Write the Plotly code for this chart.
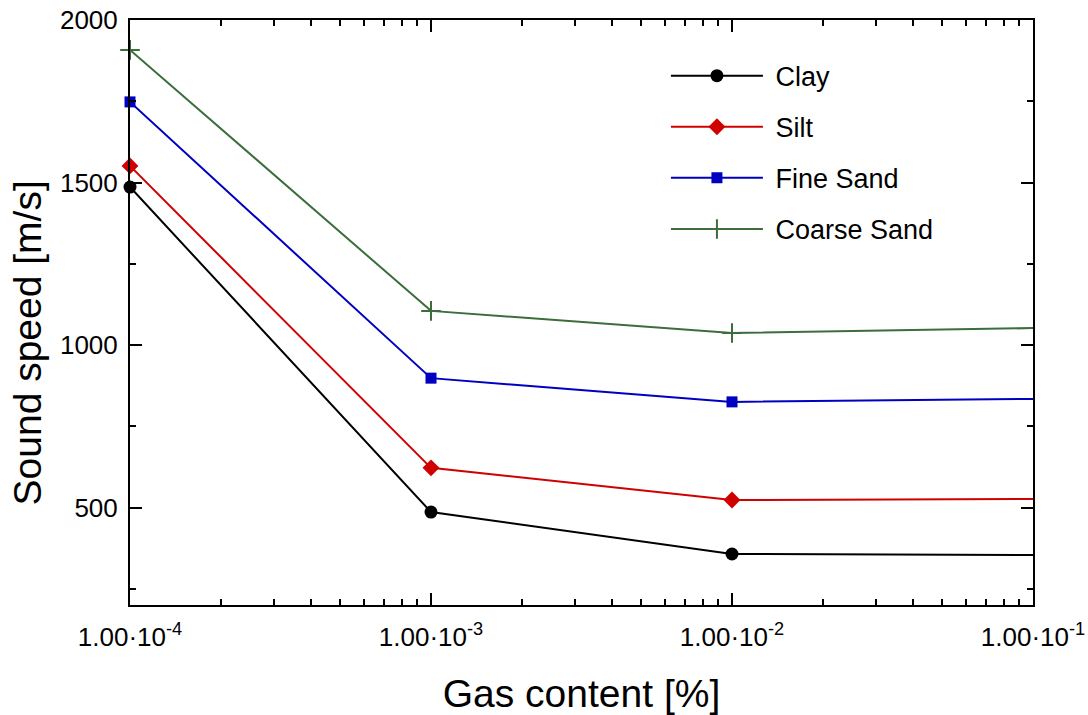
import plotly.graph_objects as go

# Gas content [%] and sound speed [m/s] per sediment type
gas_content = [1e-4, 1e-3, 1e-2, 1e-1]
clay = [1486, 486, 357, 354]
silt = [1551, 622, 523, 526]
fine_sand = [1748, 898, 825, 834]
coarse_sand = [1908, 1105, 1037, 1052]

x_tickvals = [1e-4, 1e-3, 1e-2, 1e-1]
x_ticktext = ["1.00·10<sup>-4</sup>", "1.00·10<sup>-3</sup>",
              "1.00·10<sup>-2</sup>", "1.00·10<sup>-1</sup>"]
# minor log ticks at 2..9 within each decade
x_minor = [m * d for d in (1e-4, 1e-3, 1e-2) for m in range(2, 10)]
y_tickvals = [500, 1000, 1500, 2000]

series = [
    ("Clay", clay, "#000000", dict(symbol="circle", size=13)),
    ("Silt", silt, "#d00000", dict(symbol="diamond", size=13)),
    ("Fine Sand", fine_sand, "#0000c0", dict(symbol="square", size=11)),
    ("Coarse Sand", coarse_sand, "#3b6e3b",
     dict(symbol="cross-thin", size=14, line=dict(width=2, color="#3b6e3b"))),
]

fig = go.Figure()
for name, vals, color, mk in series:
    fig.add_trace(go.Scatter(
        x=gas_content, y=vals, name="\u00a0" + name, legendgroup=name,
        mode="lines+markers",
        line=dict(color=color, width=2),
        marker=dict(color=color, **mk),
        cliponaxis=False,
    ))

font_family = "Liberation Sans, Arial, Helvetica, sans-serif"
axis_common = dict(
    showline=True, linecolor="black", linewidth=2, mirror="allticks",
    ticks="inside", ticklen=12, tickwidth=2, tickcolor="black",
    showgrid=False, zeroline=False, automargin=False,
    tickfont=dict(family=font_family, size=26, color="black"),
)

fig.update_layout(
    width=1088, height=715,
    margin=dict(l=130, r=55, t=20, b=110),
    paper_bgcolor="white", plot_bgcolor="white",
    font=dict(family=font_family, color="black"),
    xaxis=dict(
        type="log", range=[-4, -1],
        tickvals=x_tickvals, ticktext=x_ticktext,
        minor=dict(tickvals=x_minor, ticks="inside", ticklen=6,
                   tickwidth=1.5, tickcolor="black"),
        ticklabelstandoff=8,
        title=dict(text="Gas content [%]", font=dict(size=39), standoff=30),
        **axis_common,
    ),
    yaxis=dict(
        range=[200, 2000], tickvals=y_tickvals,
        minor=dict(ticks="inside", ticklen=6, tickwidth=1.5, tickcolor="black",
                   dtick=250),
        ticklabelstandoff=5,
        **axis_common,
    ),
    annotations=[dict(
        text="Sound speed [m/s]", textangle=-90,
        xref="paper", yref="paper", x=-0.1135, y=0.448,
        xanchor="center", yanchor="middle", showarrow=False,
        font=dict(size=39, family=font_family, color="black"),
    )],
    legend=dict(
        x=0.5935, y=0.946, xanchor="left", yanchor="top",
        font=dict(size=27, family=font_family),
        bgcolor="rgba(0,0,0,0)", tracegroupgap=13, traceorder="grouped",
        itemwidth=92,
    ),
)

fig.write_html("out.html")
